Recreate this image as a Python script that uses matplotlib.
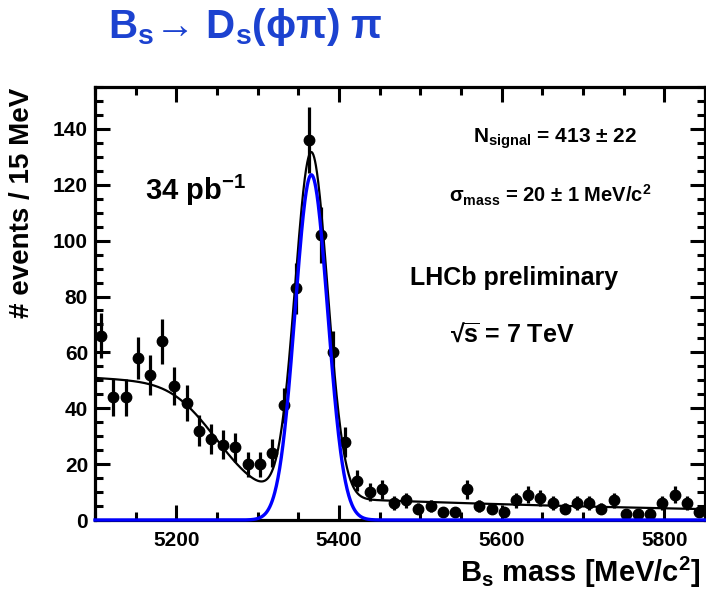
import math
import numpy as np
import matplotlib
matplotlib.use("Agg")
import matplotlib.pyplot as plt
from matplotlib.ticker import MultipleLocator

# ---------------- data ----------------
bin_low = 5100.0
bin_width = 15.0
counts = [66, 44, 44, 58, 52, 64, 48, 42, 32, 29,
          27, 26, 20, 20, 24, 41, 83, 136, 102, 60,
          28, 14, 10, 11, 6, 7, 4, 5, 3, 3,
          11, 5, 4, 3, 7, 9, 8, 6, 4, 6,
          6, 4, 7, 2, 2, 2, 6, 9, 6, 3]

# fit parameters
sig_yield = 413.0
sig_mean = 5366.0
sig_sigma = 20.0
comb_at_mean = 8.0
comb_slope = 0.00149
part_amp = 39.0
part_x0 = 5249.0
part_w = 61.5

x_range = (5100, 5850)
y_range = (0, 155)
x_ticks = [5200, 5400, 5600, 5800]
y_ticks = [0, 20, 40, 60, 80, 100, 120, 140]

FONT = "Liberation Sans"
plt.rcParams.update({
    "font.family": [FONT, "DejaVu Sans"],
    "font.weight": "bold",
    "mathtext.fontset": "custom",
    "mathtext.rm": FONT + ":bold",
    "mathtext.it": FONT + ":bold",
    "mathtext.bf": FONT + ":bold",
    "mathtext.sf": FONT + ":bold",
    "mathtext.default": "regular",
})

W, H = 706, 589
fig = plt.figure(figsize=(W / 100, H / 100), dpi=100)

def fx(px):
    return px / W

def fy(py):
    return 1 - py / H

left, right, top, bottom = 95, 705, 87, 520
ax = fig.add_axes([fx(left), fy(bottom), (right - left) / W, (bottom - top) / H])

centers = bin_low + bin_width * (np.arange(len(counts)) + 0.5)
counts_arr = np.array(counts, dtype=float)
errs = np.sqrt(counts_arr)

xx = np.linspace(x_range[0], x_range[1], 1501)
signal = sig_yield * bin_width / (np.sqrt(2 * np.pi) * sig_sigma) * np.exp(-0.5 * ((xx - sig_mean) / sig_sigma) ** 2)
comb = comb_at_mean * np.exp(-comb_slope * (xx - sig_mean))
part = part_amp * 0.5 * np.array([math.erfc((v - part_x0) / part_w) for v in xx])
total = signal + comb + part

ax.plot(xx, total, color="black", lw=1.6, zorder=3)
ax.plot(xx, signal, color="#0000ff", lw=2.4, zorder=6, clip_on=False)
ax.errorbar(centers, counts_arr, yerr=errs, fmt="o", color="black", ms=7.5,
            elinewidth=2.3, capsize=0, zorder=5)

ax.set_xlim(*x_range)
ax.set_ylim(*y_range)
ax.set_xticks(x_ticks)
ax.set_yticks(y_ticks)
ax.xaxis.set_minor_locator(MultipleLocator(50))
ax.yaxis.set_minor_locator(MultipleLocator(5))
ax.tick_params(which="both", direction="in", top=True, right=True, width=2.2)
ax.tick_params(which="major", length=11)
ax.tick_params(which="minor", length=5.5)
ax.tick_params(axis="x", which="major", pad=8, labelsize=15)
ax.tick_params(axis="y", which="major", pad=5, labelsize=15)
for lab in ax.get_xticklabels() + ax.get_yticklabels():
    lab.set_fontweight("bold")
for sp in ax.spines.values():
    sp.set_linewidth(2.3)

# axis titles
fig.text(fx(700), fy(582), "B$_\\mathrm{s}$ mass [MeV/c$^2$]", ha="right", va="baseline",
         fontsize=21, fontweight="bold")
fig.text(fx(22), fy(88), "# events / 15 MeV", rotation=90, ha="center", va="top",
         fontsize=20, fontweight="bold")

# title
fig.text(fx(108), fy(38), "B$_\\mathrm{s}$→ D$_\\mathrm{s}$(ϕπ) π", ha="left", va="baseline",
         fontsize=29, fontweight="bold", color="#1c42d0")

# annotations
fig.text(fx(145), fy(200), "34 pb$^{-1}$", ha="left", va="baseline", fontsize=21, fontweight="bold")
fig.text(fx(473), fy(143), "N$_\\mathrm{signal}$ = 413 ± 22", ha="left", va="baseline",
         fontsize=15, fontweight="bold")
fig.text(fx(449), fy(202), "σ$_\\mathrm{mass}$ = 20 ± 1 MeV/c$^2$", ha="left", va="baseline",
         fontsize=14.5, fontweight="bold")
fig.text(fx(410), fy(285), "LHCb preliminary", ha="left", va="baseline", fontsize=18, fontweight="bold")
fig.text(fx(450), fy(342), "√$\\overline{\\mathrm{s}}$ = 7 TeV", ha="left", va="baseline",
         fontsize=18, fontweight="bold")

fig.savefig("out.png", dpi=100)
